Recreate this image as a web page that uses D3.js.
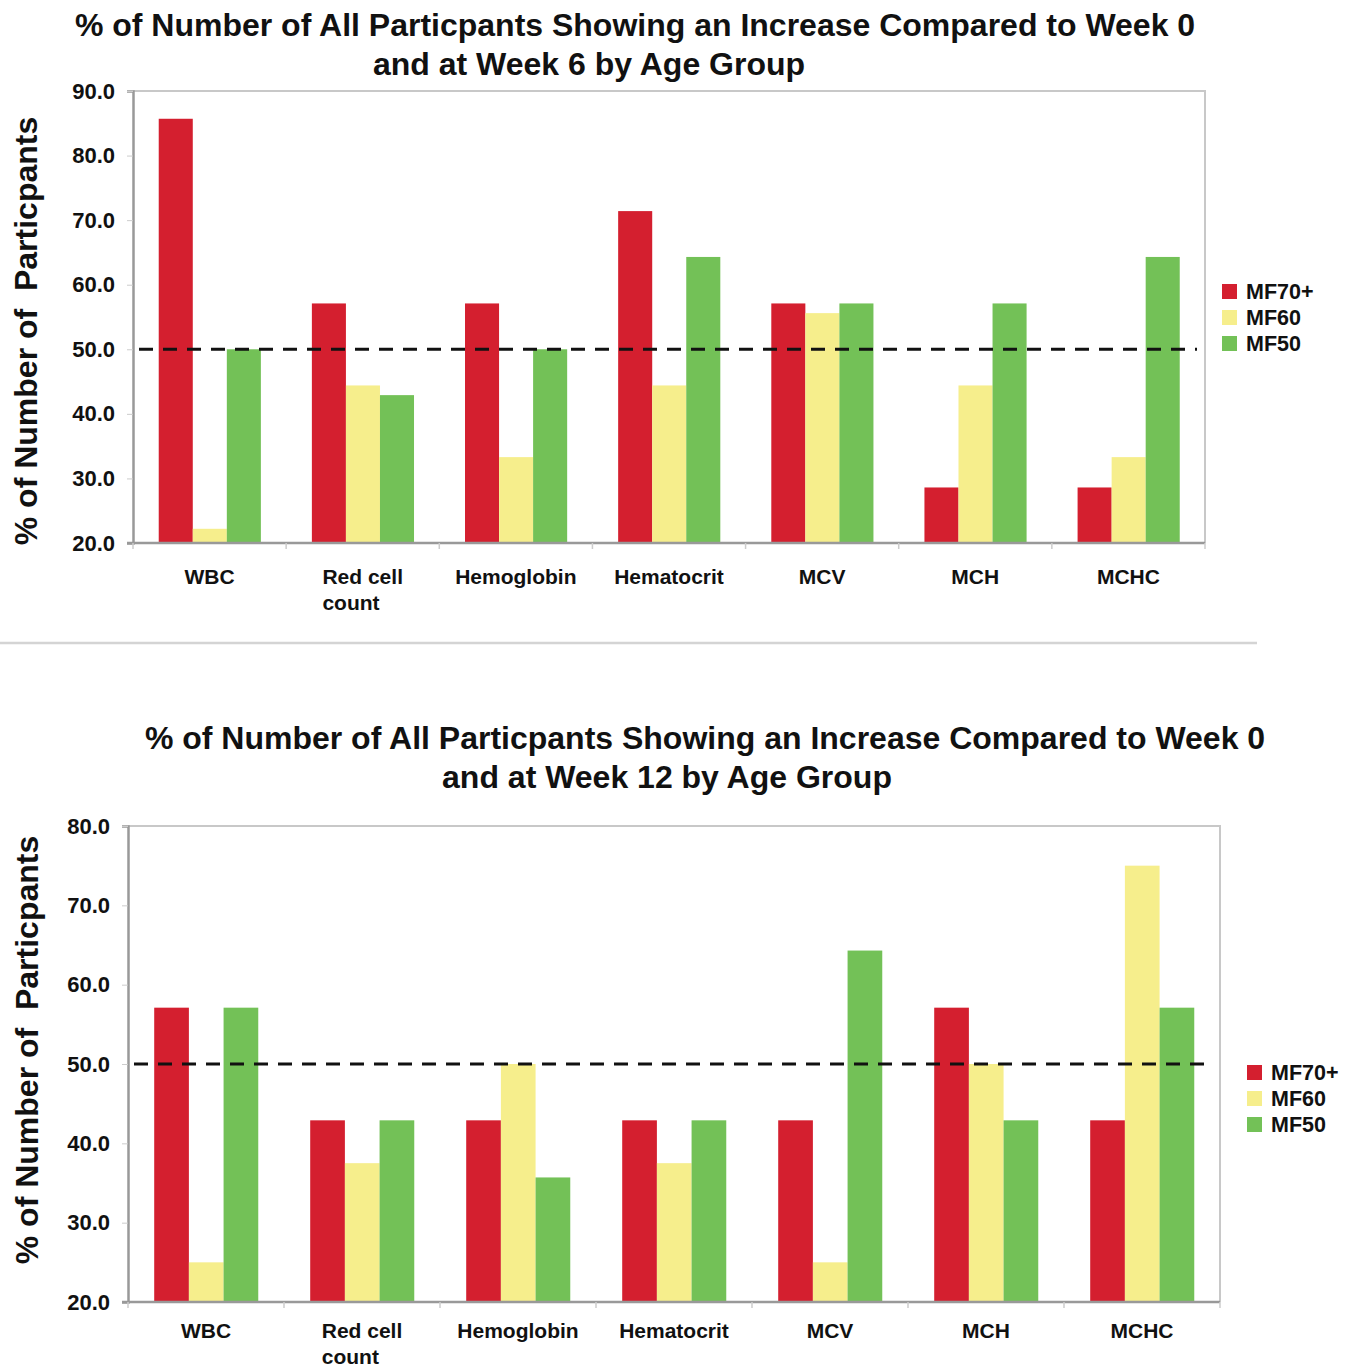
<!DOCTYPE html>
<html>
<head>
<meta charset="utf-8">
<script src="https://cdn.jsdelivr.net/npm/d3@7"></script>
<style>
  body { margin: 0; background: #fff; }
  text { font-family: "Liberation Sans", Arial, sans-serif; font-weight: bold; fill: #111; }
</style>
</head>
<body>
<div id="chart"></div>
<script>
// categories and series
const categories = ["WBC", "Red cell\ncount", "Hemoglobin", "Hematocrit", "MCV", "MCH", "MCHC"];
const seriesNames = ["MF70+", "MF60", "MF50"];
const seriesColors = ["#d41f2f", "#f6ee8c", "#73c157"];

// week 6 values (%)
const week6MF70 = [85.7, 57.1, 57.1, 71.4, 57.1, 28.6, 28.6];
const week6MF60 = [22.2, 44.4, 33.3, 44.4, 55.6, 44.4, 33.3];
const week6MF50 = [50.0, 42.9, 50.0, 64.3, 57.1, 57.1, 64.3];

// week 12 values (%)
const week12MF70 = [57.1, 42.9, 42.9, 42.9, 42.9, 57.1, 42.9];
const week12MF60 = [25.0, 37.5, 50.0, 37.5, 25.0, 50.0, 75.0];
const week12MF50 = [57.1, 42.9, 35.7, 42.9, 64.3, 42.9, 57.1];

const week6Ticks = [20, 30, 40, 50, 60, 70, 80, 90];
const week12Ticks = [20, 30, 40, 50, 60, 70, 80];
const refLine = 50;

const W = 1354, H = 1367;
const svg = d3.select("#chart").append("svg")
  .attr("width", W).attr("height", H);
svg.append("rect").attr("width", W).attr("height", H).attr("fill", "#fff");

function drawChart(cfg) {
  const g = svg.append("g");
  const x0 = d3.scaleBand().domain(categories).range([cfg.left, cfg.right]);
  const x1 = d3.scaleBand().domain(seriesNames)
    .range([x0.bandwidth() * 0.168, x0.bandwidth() * 0.835]);
  const y = d3.scaleLinear().domain(d3.extent(cfg.ticks)).range([cfg.bottom, cfg.top]);

  // title
  cfg.title.forEach((t, i) => {
    g.append("text").attr("x", cfg.titleX[i]).attr("y", cfg.titleY + i * 39)
      .attr("text-anchor", "middle").attr("font-size", 32).text(t);
  });

  // frame
  g.append("path")
    .attr("d", `M${cfg.left},${cfg.top}H${cfg.right}V${cfg.bottom}`)
    .attr("fill", "none").attr("stroke", "#c8c8c8").attr("stroke-width", 2);

  // bars
  const rows = categories.map((c, i) => ({ cat: c, vals: cfg.series.map(s => s[i]) }));
  g.append("g").selectAll("g").data(rows).join("g")
    .attr("transform", d => `translate(${x0(d.cat)},0)`)
    .selectAll("rect")
    .data(d => d.vals.map((v, k) => ({ key: seriesNames[k], v, k })))
    .join("rect")
    .attr("x", d => x1(d.key))
    .attr("width", x1.bandwidth())
    .attr("y", d => y(d.v))
    .attr("height", d => y(cfg.ticks[0]) - y(d.v))
    .attr("fill", d => seriesColors[d.k]);

  // y axis
  const yAxis = g.append("g").attr("transform", `translate(${cfg.left},0)`)
    .call(d3.axisLeft(y).tickValues(cfg.ticks).tickFormat(d3.format(".1f"))
      .tickSize(6).tickPadding(cfg.tickPad));
  yAxis.select(".domain").attr("stroke", "#999").attr("stroke-width", 2.5);
  yAxis.selectAll(".tick line").attr("stroke", "#ccc");
  yAxis.selectAll(".tick text").attr("font-size", 22).attr("fill", "#111")
    .attr("font-family", "Liberation Sans, Arial, sans-serif");

  // x axis
  const xAxis = g.append("g").attr("transform", `translate(0,${cfg.bottom})`);
  xAxis.append("line").attr("x1", cfg.left - 6).attr("x2", cfg.right)
    .attr("stroke", "#999").attr("stroke-width", 2.5);
  const bounds = categories.map(c => x0(c)).concat([cfg.right]);
  xAxis.selectAll("line.tk").data(bounds).join("line").attr("class", "tk")
    .attr("x1", d => d).attr("x2", d => d).attr("y1", 0).attr("y2", 6)
    .attr("stroke", "#ccc").attr("stroke-width", 1.5);

  categories.forEach(c => {
    const lines = c.split("\n");
    const cx = x0(c) + x0.bandwidth() / 2;
    const t = xAxis.append("text").attr("font-size", 21);
    lines.forEach((ln, i) => t.append("tspan").attr("y", cfg.catDy + i * 26).text(ln));
    const w = t.select("tspan").node().getComputedTextLength();
    t.selectAll("tspan").attr("x", cx - w / 2);
  });

  // reference line
  g.append("line").attr("x1", cfg.left + 6).attr("x2", cfg.right - 8)
    .attr("y1", y(refLine)).attr("y2", y(refLine))
    .attr("stroke", "#111").attr("stroke-width", 3).attr("stroke-dasharray", "14,10");

  // y title
  g.append("text")
    .attr("transform", `translate(${cfg.yTitleX},${cfg.yTitleY}) rotate(-90)`)
    .attr("text-anchor", "middle").attr("font-size", 32)
    .style("white-space", "pre")
    .text("% of Number of  Particpants");

  // legend
  const lg = g.append("g").attr("transform", `translate(${cfg.legX},${cfg.legY})`);
  seriesNames.forEach((s, i) => {
    lg.append("rect").attr("x", 0).attr("y", i * 26 - 7).attr("width", 15).attr("height", 15)
      .attr("fill", seriesColors[i]);
    lg.append("text").attr("x", 24).attr("y", i * 26 + 8).attr("font-size", 21.5).text(s);
  });
}

drawChart({
  title: ["% of Number of All Particpants Showing an Increase Compared to Week 0",
          "and at Week 6 by Age Group"],
  titleX: [635, 589], titleY: 36,
  left: 133, right: 1205, top: 91, bottom: 543,
  ticks: week6Ticks, tickPad: 12,
  series: [week6MF70, week6MF60, week6MF50],
  catDy: 41, yTitleX: 37, yTitleY: 331,
  legX: 1222, legY: 291
});

// divider
svg.append("line").attr("x1", 0).attr("x2", 1257).attr("y1", 643).attr("y2", 643)
  .attr("stroke", "#d4d4d4").attr("stroke-width", 2.5);

drawChart({
  title: ["% of Number of All Particpants Showing an Increase Compared to Week 0",
          "and at Week 12 by Age Group"],
  titleX: [705, 667], titleY: 749,
  left: 128, right: 1220, top: 826, bottom: 1302,
  ticks: week12Ticks, tickPad: 12,
  series: [week12MF70, week12MF60, week12MF50],
  catDy: 36, yTitleX: 38, yTitleY: 1050,
  legX: 1247, legY: 1072
});
</script>
</body>
</html>
